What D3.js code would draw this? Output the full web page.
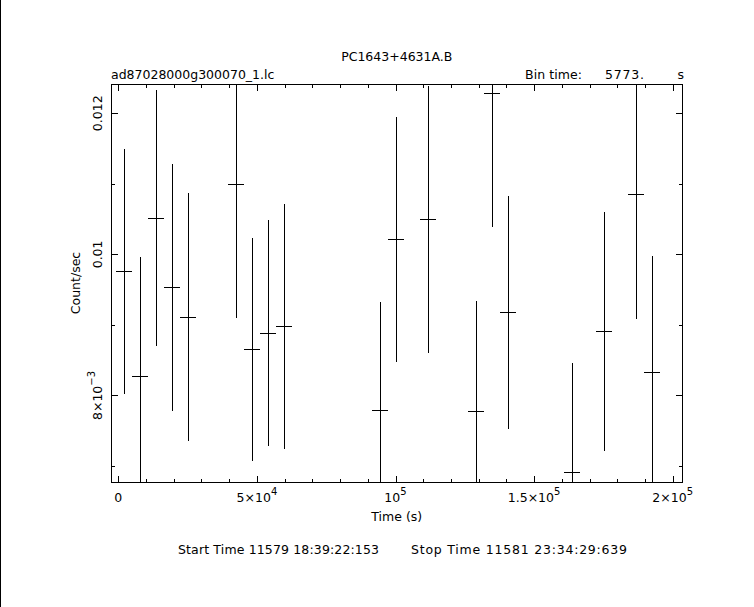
<!DOCTYPE html>
<html>
<head>
<meta charset="utf-8">
<script src="https://cdn.jsdelivr.net/npm/d3@7"></script>
<style>
  html, body { margin: 0; padding: 0; background: #fff; }
  svg { display: block; }
  text { font-family: "DejaVu Sans", sans-serif; font-size: 12.5px; fill: #000; }
</style>
</head>
<body>
<svg id="chart" width="754" height="607"></svg>
<script>
// ---- data ----
const title = "PC1643+4631A.B";
const fileLabel = "ad87028000g300070_1.lc";
const binTime = 5773;
const times = [2150, 7923, 13696, 19469, 25242, 42561, 48334, 54107, 59880, 94518,
               100291, 111837, 129156, 134929, 140702, 163794, 175340, 186886, 192659];
const rates = [0.009760, 0.008276, 0.010516, 0.009533, 0.009108, 0.010993, 0.008654, 0.008881,
               0.008980, 0.007790, 0.010214, 0.010497, 0.007775, 0.012284, 0.009179, 0.006911,
               0.008910, 0.010852, 0.008328];
const errors = [0.001734, 0.001687, 0.001812, 0.001748, 0.001756, 0.001891, 0.001583, 0.001600,
                0.001734, 0.001540, 0.001734, 0.00189, 0.001564, 0.00189, 0.001649, 0.00155,
                0.001692, 0.001763, 0.001649];
const xMajorTicks = [0, 50000, 100000, 150000, 200000];
const xTickLabels = [["0"], ["5\u00d710", "4"], ["10", "5"], ["1.5\u00d710", "5"], ["2\u00d710", "5"]];
const yMajorTicks = [0.008, 0.010, 0.012];
const yTickLabels = [["8\u00d710", "\u22123"], ["0.01"], ["0.012"]];
const startText = "Start Time 11579 18:39:22:153";
const stopText = "Stop Time 11581 23:34:29:639";

// ---- layout ----
const L = 111, R = 682.5, T = 84, B = 482;
const svg = d3.select("#chart");

const x = d3.scaleLinear().domain([-2634, 203535]).range([L, R]);
const y = d3.scaleLinear().domain([0.006774, 0.012415]).range([B, T]);

// left window border
svg.append("line").attr("x1", 0.5).attr("x2", 0.5).attr("y1", 0).attr("y2", 607)
  .attr("stroke", "#000").attr("stroke-width", 1);

// frame
svg.append("rect").attr("x", L).attr("y", T).attr("width", R - L).attr("height", B - T)
  .attr("fill", "none").attr("stroke", "#000").attr("stroke-width", 1)
  .attr("shape-rendering", "crispEdges");

const xMinor = d3.range(0, 200001, 10000);
const yMinor = d3.range(7, 12.5, 1).map(d => d / 1000);
const isMajX = v => Math.abs(v % 50000) < 1;
const isMajY = v => Math.abs(Math.round(v * 1e4) % 20) < 1e-6;

const ticks = svg.append("g").attr("stroke", "#000").attr("stroke-width", 1)
  .attr("shape-rendering", "crispEdges");
xMinor.forEach(v => {
  const len = isMajX(v) ? 6.5 : 3.5;
  const px = Math.round(x(v)) + 0.5;
  ticks.append("line").attr("x1", px).attr("x2", px).attr("y1", B).attr("y2", B - len);
  ticks.append("line").attr("x1", px).attr("x2", px).attr("y1", T).attr("y2", T + len);
});
yMinor.forEach(v => {
  const len = isMajY(v) ? 6.5 : 4;
  const py = Math.round(y(v)) + 0.5;
  ticks.append("line").attr("y1", py).attr("y2", py).attr("x1", L).attr("x2", L + len);
  ticks.append("line").attr("y1", py).attr("y2", py).attr("x1", R).attr("x2", R - len);
});

// clip
svg.append("clipPath").attr("id", "clip").append("rect")
  .attr("x", L).attr("y", T).attr("width", R - L).attr("height", B - T);

const data = times.map((t, i) => ({ t, v: rates[i], e: errors[i] }));
const g = svg.append("g").attr("clip-path", "url(#clip)")
  .attr("stroke", "#000").attr("stroke-width", 1).attr("shape-rendering", "crispEdges");
g.selectAll("line.v").data(data).join("line").attr("class", "v")
  .attr("x1", d => Math.round(x(d.t)) + 0.5).attr("x2", d => Math.round(x(d.t)) + 0.5)
  .attr("y1", d => y(d.v - d.e)).attr("y2", d => y(d.v + d.e));
g.selectAll("line.h").data(data).join("line").attr("class", "h")
  .attr("x1", d => x(d.t - binTime / 2)).attr("x2", d => x(d.t + binTime / 2))
  .attr("y1", d => Math.round(y(d.v)) + 0.5).attr("y2", d => Math.round(y(d.v)) + 0.5);

// x tick labels
xMajorTicks.forEach((v, i) => {
  const lab = xTickLabels[i];
  const t = svg.append("text").attr("x", x(v)).attr("y", 502).attr("text-anchor", "middle");
  t.append("tspan").text(lab[0]);
  if (lab[1]) t.append("tspan").attr("dy", -7).attr("font-size", "10px").text(lab[1]);
});
// y tick labels (rotated)
yMajorTicks.forEach((v, i) => {
  const lab = yTickLabels[i];
  const t = svg.append("text").attr("transform", `translate(102,${y(v)}) rotate(-90)`)
    .attr("text-anchor", "middle");
  t.append("tspan").text(lab[0]);
  if (lab[1]) t.append("tspan").attr("dy", -7).attr("font-size", "10px").text(lab[1]);
});

// axis titles
svg.append("text").attr("x", (L + R) / 2).attr("y", 521).attr("text-anchor", "middle").text("Time (s)");
svg.append("text").attr("transform", `translate(80,${(T + B) / 2}) rotate(-90)`)
  .attr("text-anchor", "middle").text("Count/sec");

// top texts
svg.append("text").attr("x", (L + R) / 2).attr("y", 61).attr("text-anchor", "middle").text(title);
svg.append("text").attr("x", L).attr("y", 79).text(fileLabel);
svg.append("text").attr("x", 525).attr("y", 79).attr("textLength", 57).attr("lengthAdjust", "spacing").text("Bin time:");
svg.append("text").attr("x", 605).attr("y", 79).attr("textLength", 39).attr("lengthAdjust", "spacing").text(binTime + ".");
svg.append("text").attr("x", 677.5).attr("y", 79).text("s");

// bottom text
svg.append("text").attr("x", 178).attr("y", 554).attr("textLength", 201).attr("lengthAdjust", "spacing").text(startText);
svg.append("text").attr("x", 411).attr("y", 554).attr("textLength", 216).attr("lengthAdjust", "spacing").text(stopText);
</script>
</body>
</html>
